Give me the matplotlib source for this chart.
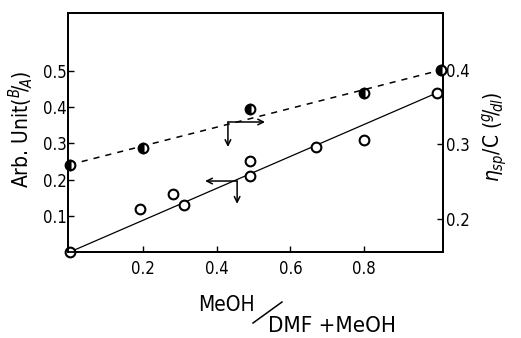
import matplotlib
matplotlib.use("Agg")
import matplotlib.pyplot as plt
from matplotlib import font_manager
from matplotlib.lines import Line2D

# pick a narrow sans if one is installed (scan looks like a condensed DIN face)
narrow = None
for f in font_manager.fontManager.ttflist:
    if f.style != 'normal' or f.weight not in (400, 'normal', 'regular'):
        continue
    if 'Narrow' in f.name or 'Condensed' in f.name or str(f.stretch) in ('condensed', 'semi-condensed'):
        narrow = f
        break

if narrow is not None:
    plt.rcParams['font.family'] = [narrow.name, 'DejaVu Sans']
    plt.rcParams['font.stretch'] = narrow.stretch
    plt.rcParams['mathtext.fontset'] = 'custom'
    plt.rcParams['mathtext.rm'] = narrow.name
    plt.rcParams['mathtext.it'] = narrow.name + ':italic'
    fs_tick, fs_lab = 12, 15
else:
    plt.rcParams['font.family'] = ['DejaVu Sans']
    fs_tick, fs_lab = 11, 14

# open circles -> left axis (Arb. Unit B/A)
x_ba = [0.0, 0.19, 0.28, 0.31, 0.49, 0.49, 0.67, 0.80, 1.00]
y_ba = [0.0, 0.12, 0.16, 0.13, 0.21, 0.25, 0.29, 0.31, 0.44]
fit_ba_x = [0.0, 1.0]
fit_ba_y = [0.0, 0.44]

# half filled circles -> right axis (eta_sp / C)
x_eta = [0.0, 0.20, 0.49, 0.80, 1.01]
y_eta = [0.273, 0.295, 0.348, 0.369, 0.400]
fit_eta_x = [0.0, 1.01]
fit_eta_y = [0.273, 0.400]

x_ticks = [0.2, 0.4, 0.6, 0.8]
x_ticklabels = ["0.2", "0.4", "0.6", "0.8"]
yl_ticks = [0.1, 0.2, 0.3, 0.4, 0.5]
yr_ticks = [0.2, 0.3, 0.4]

fig = plt.figure(figsize=(5.21, 3.38), dpi=100)
ax = fig.add_axes([68/521, 1-252/338, 375/521, 239/338])
ax2 = ax.twinx()

ax.plot(fit_ba_x, fit_ba_y, color='black', lw=0.9, zorder=2)
ax.plot(x_ba, y_ba, 'o', ms=7, mfc='white', mec='black', mew=1.5, zorder=3, clip_on=False)

ax2.plot(fit_eta_x, fit_eta_y, color='black', lw=1.1, ls=(0, (4, 4)), zorder=2)
ax2.plot(x_eta, y_eta, 'o', ms=7, fillstyle='left', mfc='black', mfcalt='white',
         mec='black', mew=1.5, zorder=3, clip_on=False)

ax.set_xlim(-0.005, 1.015)
ax.set_ylim(0, 0.66)
ax2.set_ylim(0.1557, 0.4765)

ax.set_xticks(x_ticks)
ax.set_xticklabels(x_ticklabels)
ax.set_yticks(yl_ticks)
ax2.set_yticks(yr_ticks)

ax.tick_params(direction='in', length=4, width=1, labelsize=fs_tick, pad=6)
ax.tick_params(axis='y', pad=1)
ax2.tick_params(direction='in', length=4, width=1, labelsize=fs_tick, pad=2)
for a in (ax, ax2):
    for s in a.spines.values():
        s.set_linewidth(1.3)

# arrows indicating which axis
arr = dict(arrowstyle='->', lw=1.1, color='black', shrinkA=0, shrinkB=0)
ax.annotate('', xy=(0.531, 0.359), xytext=(0.430, 0.359), arrowprops=arr)
ax.annotate('', xy=(0.430, 0.290), xytext=(0.430, 0.359), arrowprops=arr)
ax.annotate('', xy=(0.368, 0.196), xytext=(0.455, 0.196), arrowprops=arr)
ax.annotate('', xy=(0.455, 0.133), xytext=(0.455, 0.196), arrowprops=arr)

# axis labels
fig.text(21/521, 1-129/338, r"Arb. Unit($^{B}\!/\!_{A}$)", rotation=90,
         ha='center', va='center', fontsize=fs_lab)
fig.text(495/521, 1-137/338, r"$\eta_{sp}$/C ($^{g}\!/\!_{dl}$)", rotation=90,
         ha='center', va='center', fontsize=fs_lab)

fig.text(226/521, 1-305/338, "MeOH", ha='center', va='center', fontsize=fs_lab)
fig.text(332/521, 1-326/338, "DMF +MeOH", ha='center', va='center', fontsize=fs_lab + 1)
fig.add_artist(Line2D([253/521, 282/521], [1-323/338, 1-302/338],
                      transform=fig.transFigure, color='black', lw=1.1))

fig.savefig("out.png", dpi=100, facecolor='white')
